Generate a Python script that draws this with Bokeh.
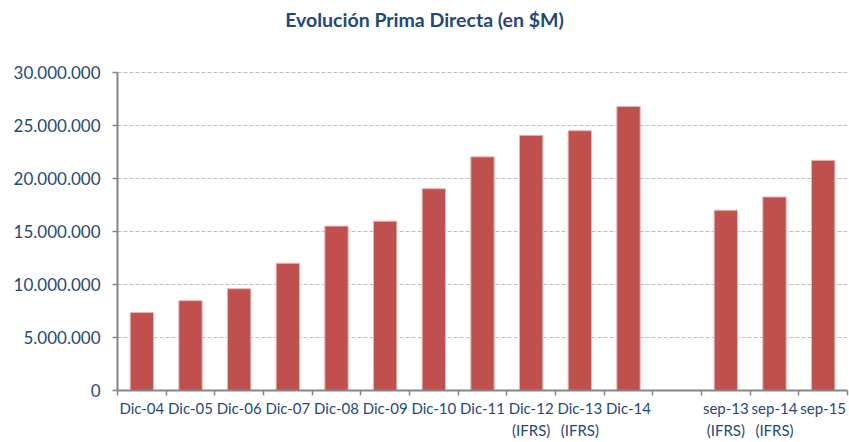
from bokeh.plotting import figure
from bokeh.models import Range1d, FixedTicker, ColumnDataSource, Label
from bokeh.embed import file_html
from bokeh.resources import INLINE

categories = ["Dic-04", "Dic-05", "Dic-06", "Dic-07", "Dic-08", "Dic-09", "Dic-10",
              "Dic-11", "Dic-12", "Dic-13", "Dic-14", "", "sep-13", "sep-14", "sep-15"]
sublabels = ["", "", "", "", "", "", "", "", "(IFRS)", "(IFRS)", "", "", "(IFRS)", "(IFRS)", ""]
values = [7350000, 8470000, 9600000, 12000000, 15500000, 15970000, 19030000,
          22030000, 24060000, 24500000, 26780000, None, 17000000, 18250000, 21700000]
y_ticks = [0, 5000000, 10000000, 15000000, 20000000, 25000000, 30000000]
y_tick_labels = ["0", "5.000.000", "10.000.000", "15.000.000", "20.000.000", "25.000.000", "30.000.000"]
title_text = "Evolución Prima Directa (en $M)"

xs, tops = [], []
for i, v in enumerate(values):
    if v is not None:
        xs.append(i + 0.5)
        tops.append(v)
source = ColumnDataSource(data=dict(x=xs, top=tops))

FONT = "Lato"
BLUE = "#1F497D"
GRAY = "#868686"
W, H = 849, 442
LEFT, TOP = 117, 8
AXIS_MAX = y_ticks[-1]
# frame extends above the axis so the title can sit inside it; axis spans 319px of 383px
Y_END = AXIS_MAX * 383 / 319

p = figure(width=W, height=H, output_backend="svg", toolbar_location=None,
           x_range=Range1d(0, len(categories)), y_range=Range1d(0, Y_END),
           min_border_left=LEFT, min_border_right=2, min_border_top=TOP, min_border_bottom=10)
p.outline_line_color = None
p.background_fill_color = "white"

p.vbar(x="x", top="top", width=0.48, source=source, fill_color="#C0504D",
       line_color="#E6B9B8", line_width=1)

title = Label(x=424 - LEFT, y=371, x_units="screen", y_units="screen", text=title_text,
              text_font=FONT, text_font_style="bold", text_font_size="19.5px",
              text_color=BLUE, text_align="center", text_baseline="middle")
p.add_layout(title)

# x axis
centers = [i + 0.5 for i in range(len(categories))]
bounds = list(range(len(categories) + 1))
xax = p.xaxis[0]
xax.ticker = FixedTicker(ticks=centers, minor_ticks=bounds)
xax.major_label_overrides = {c: (lab + ("\n" + sub if sub else "")) for c, lab, sub in zip(centers, categories, sublabels)}
xax.major_tick_line_color = None
xax.major_tick_out = 0
xax.major_tick_in = 0
xax.minor_tick_line_color = GRAY
xax.minor_tick_out = 5
xax.minor_tick_in = 0
xax.minor_tick_line_width = 1.5
xax.axis_line_color = GRAY
xax.axis_line_width = 2
xax.major_label_text_font = FONT
xax.major_label_text_font_size = "15px"
xax.major_label_text_color = BLUE
xax.major_label_text_line_height = 1.25
xax.major_label_standoff = 3

# y axis
yax = p.yaxis[0]
yax.ticker = FixedTicker(ticks=y_ticks)
yax.bounds = (0, AXIS_MAX)
yax.major_label_overrides = {t: l for t, l in zip(y_ticks, y_tick_labels)}
yax.minor_tick_line_color = None
yax.major_tick_out = 5
yax.major_tick_in = 0
yax.major_tick_line_color = GRAY
yax.major_tick_line_width = 1.5
yax.axis_line_color = GRAY
yax.axis_line_width = 2
yax.major_label_text_font = FONT
yax.major_label_text_font_size = "17px"
yax.major_label_text_color = BLUE
yax.major_label_standoff = 12

p.xgrid.grid_line_color = None
p.ygrid.grid_line_color = "#BFBFBF"
p.ygrid.grid_line_dash = "4 2"
p.ygrid.grid_line_width = 1

open("out.html", "w").write(file_html(p, INLINE))
